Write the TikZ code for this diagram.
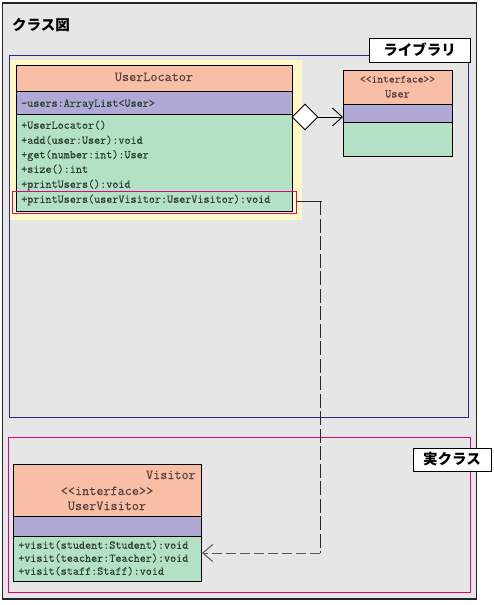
\documentclass[tikz,border=0pt]{standalone}
\usepackage{fontspec}
\newfontfamily\cjk{Noto Sans CJK JP}
\newfontfamily\codefont{Latin Modern Mono}[FakeBold=0.6]
\usetikzlibrary{arrows.meta,shapes.geometric}
\definecolor{bggray}{HTML}{E6E6E6}
\definecolor{salmon}{HTML}{F9BEA6}
\definecolor{lav}{HTML}{B0A9D5}
\definecolor{mint}{HTML}{B3E1C5}
\definecolor{hilite}{HTML}{FFF8C6}
\definecolor{navy}{HTML}{2B2E7E}
\definecolor{magent}{HTML}{E4007F}
\definecolor{headtxt}{HTML}{5A4242}
\definecolor{methtxt}{HTML}{2E3F35}
\tikzset{
  part/.style={draw=black, line width=0.8pt, anchor=north west, inner sep=0pt, outer sep=0pt},
  lbl/.style={draw=black, fill=white, line width=0.9pt, inner sep=0pt, font=\cjk\bfseries\fontsize{14.5}{16}\selectfont},
  mtxt/.style={inner sep=0pt, text height=8pt, text depth=2.5pt, text=methtxt, font=\codefont\fontsize{11.8}{13}\selectfont},
  htxt/.style={inner sep=0pt, text height=8.5pt, text depth=2.5pt, text=headtxt, font=\codefont\fontsize{13.8}{15}\selectfont},
  stxt/.style={inner sep=0pt, text height=7pt, text depth=2pt, text=headtxt, font=\codefont\fontsize{11}{13}\selectfont}
}
\begin{document}
\begin{tikzpicture}[x=1pt,y=-1pt]
\useasboundingbox (0,0) rectangle (493,605);
% outer frame
\node[part, draw=black!85, line width=1.3pt, fill=bggray, minimum width=474pt, minimum height=596pt] (outer) at (2.5,3) {};
\node[anchor=west, inner sep=0pt, font=\cjk\bfseries\fontsize{14.5}{16}\selectfont] (title) at (12,25) {クラス図};
% library frame
\node[part, draw=navy, line width=0.8pt, minimum width=458.5pt, minimum height=362pt] (lib) at (9.5,55) {};
\node[lbl, minimum width=101pt, minimum height=24pt] (libl) at (419.5,50) {ライブラリ};
% highlight
\node[part, draw=none, fill=hilite, minimum width=292pt, minimum height=160pt] (hl) at (10,60) {};
% UserLocator
\node[part, fill=salmon, minimum width=276pt, minimum height=26pt] (ulH) at (16,65) {};
\node[part, fill=lav, minimum width=276pt, minimum height=23pt] (ulA) at (16,91) {};
\node[part, fill=mint, minimum width=276pt, minimum height=97pt] (ulM) at (16,114) {};
\node[htxt] (ulN) at (ulH.center) {UserLocator};
\node[mtxt, anchor=west] (ula1) at (21,104) {-users:ArrayList<User>};
\node[mtxt, anchor=west] (ulm1) at (21,126) {+UserLocator()};
\node[mtxt, anchor=west] (ulm2) at (21,141) {+add(user:User):void};
\node[mtxt, anchor=west] (ulm3) at (21,155.5) {+get(number:int):User};
\node[mtxt, anchor=west] (ulm4) at (21,170) {+size():int};
\node[mtxt, anchor=west] (ulm5) at (21,185) {+printUsers():void};
\node[mtxt, anchor=west] (ulm6) at (21,200) {+printUsers(userVisitor:UserVisitor):void};
\node[part, draw=magent, line width=0.8pt, minimum width=284pt, minimum height=22pt] (pk) at (12,191) {};
% User interface
\node[part, fill=salmon, minimum width=109pt, minimum height=34pt] (usH) at (343,70) {};
\node[part, fill=lav, minimum width=109pt, minimum height=18pt] (usA) at (343,104) {};
\node[part, fill=mint, minimum width=109pt, minimum height=34pt] (usM) at (343,122) {};
\node[stxt] (us1) at (397.5,80) {<<interface>>};
\node[stxt, font=\codefont\fontsize{12}{13}\selectfont] (us2) at (397.5,95) {User};
% aggregation
\node[diamond, draw=black, fill=white, line width=0.9pt, minimum width=26pt, minimum height=26pt, inner sep=0pt, aspect=1] (dia) at (305,117) {};
\draw[line width=0.9pt, -{Straight Barb[length=10pt,width=18pt]}] (dia.east) -- (dia.east -| usA.west);
% real class frame
\node[part, draw=magent, line width=0.8pt, minimum width=462pt, minimum height=155pt] (real) at (8,437) {};
\node[lbl, minimum width=78pt, minimum height=23pt] (reall) at (452,459.5) {実クラス};
% UserVisitor
\node[part, fill=salmon, minimum width=188pt, minimum height=52pt] (uvH) at (13,464) {};
\node[part, fill=lav, minimum width=188pt, minimum height=20pt] (uvA) at (13,516) {};
\node[part, fill=mint, minimum width=188pt, minimum height=45pt] (uvM) at (13,536) {};
\node[htxt, anchor=east] (uv0) at (196,476) {Visitor};
\node[htxt] (uv1) at (107,492) {<<interface>>};
\node[htxt] (uv2) at (107,507) {UserVisitor};
\node[mtxt, anchor=west] (uvm1) at (18,546) {+visit(student:Student):void};
\node[mtxt, anchor=west] (uvm2) at (18,559) {+visit(teacher:Teacher):void};
\node[mtxt, anchor=west] (uvm3) at (18,572) {+visit(staff:Staff):void};
% dependency
\coordinate (c1) at (320,201);
\coordinate (c2) at (320,553);
\draw[line width=1pt, black!85] (pk.east |- c1) -- ([xshift=2pt]c1);
\draw[line width=1pt, black!85, dash pattern=on 14pt off 3.5pt] (c1) -- (c2);
\draw[line width=1pt, black!65, dash pattern=on 10pt off 4pt, -{Straight Barb[length=10pt,width=17pt]}] (c2) -- ([xshift=1pt]uvM.east |- c2);
\end{tikzpicture}
\end{document}
